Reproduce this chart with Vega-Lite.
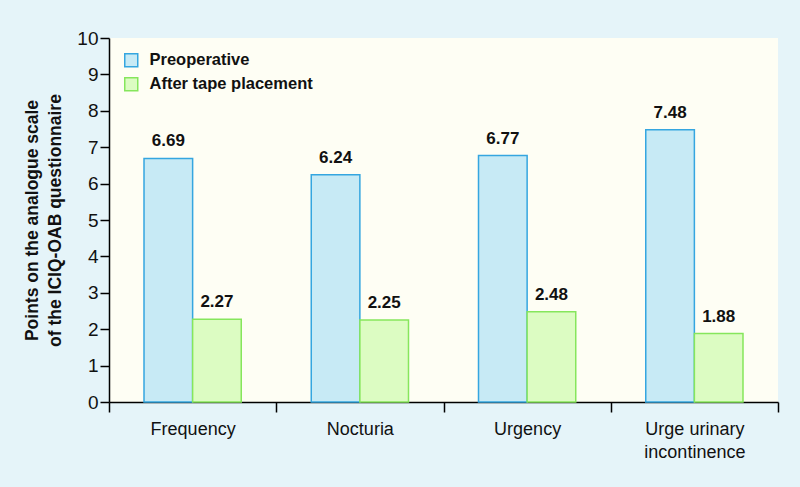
{
  "$schema": "https://vega.github.io/schema/vega-lite/v6.json",
  "width": 669,
  "height": 364,
  "autosize": {"type": "none"},
  "padding": {"left": 109, "top": 38, "right": 22, "bottom": 85},
  "background": "#e5f4f9",
  "config": {
    "font": "Liberation Sans",
    "view": {"fill": "#fefef4", "stroke": null}
  },
  "data": {
    "values": [
      {"symptom": "Frequency", "group": "Preoperative", "value": 6.69},
      {"symptom": "Frequency", "group": "After tape placement", "value": 2.27},
      {"symptom": "Nocturia", "group": "Preoperative", "value": 6.24},
      {"symptom": "Nocturia", "group": "After tape placement", "value": 2.25},
      {"symptom": "Urgency", "group": "Preoperative", "value": 6.77},
      {"symptom": "Urgency", "group": "After tape placement", "value": 2.48},
      {"symptom": "Urge urinary incontinence", "group": "Preoperative", "value": 7.48},
      {"symptom": "Urge urinary incontinence", "group": "After tape placement", "value": 1.88}
    ]
  },
  "encoding": {
    "x": {
      "field": "symptom",
      "type": "nominal",
      "sort": null,
      "scale": {"paddingInner": 0, "paddingOuter": 0},
      "axis": {
        "title": null,
        "labelAngle": 0,
        "labelFontSize": 18,
        "labelColor": "#111",
        "labelPadding": 8,
        "labelLineHeight": 23,
        "labelExpr": "datum.label == 'Urge urinary incontinence' ? ['Urge urinary', 'incontinence'] : datum.label",
        "domainColor": "#000",
        "domainWidth": 1.5,
        "tickColor": "#000",
        "tickWidth": 1.5,
        "tickSize": 10,
        "tickBand": "extent"
      }
    },
    "xOffset": {
      "field": "group",
      "type": "nominal",
      "sort": ["Preoperative", "After tape placement"],
      "scale": {"paddingInner": 0, "paddingOuter": 0.72}
    },
    "y": {
      "field": "value",
      "type": "quantitative",
      "scale": {"domain": [0, 10], "nice": false},
      "axis": {
        "title": ["Points on the analogue scale", "of the ICIQ-OAB questionnaire"],
        "titleFontSize": 17.5,
        "titleFontWeight": "bold",
        "titleColor": "#111",
        "titleLineHeight": 23,
        "titlePadding": 12,
        "values": [0, 1, 2, 3, 4, 5, 6, 7, 8, 9, 10],
        "grid": false,
        "labelFontSize": 19,
        "labelColor": "#111",
        "labelPadding": 2,
        "domainColor": "#000",
        "domainWidth": 1.5,
        "tickColor": "#000",
        "tickWidth": 1.5,
        "tickSize": 9
      }
    }
  },
  "layer": [
    {
      "mark": {"type": "bar", "strokeWidth": 1.5},
      "encoding": {
        "fill": {
          "field": "group",
          "type": "nominal",
          "scale": {"domain": ["Preoperative", "After tape placement"], "range": ["#c7eaf5", "#dcfcc2"]},
          "legend": {
            "title": null,
            "orient": "none",
            "legendX": 14,
            "legendY": 14,
            "symbolType": "square",
            "symbolSize": 169,
            "symbolStrokeWidth": 1.5,
            "labelFontSize": 16.5,
            "labelFontWeight": "bold",
            "labelColor": "#111",
            "labelOffset": 10,
            "labelLimit": 400,
            "rowPadding": 4
          }
        },
        "stroke": {
          "field": "group",
          "type": "nominal",
          "scale": {"domain": ["Preoperative", "After tape placement"], "range": ["#35a6e0", "#86e65c"]}
        }
      }
    },
    {
      "mark": {"type": "text", "baseline": "bottom", "dy": -8, "fontSize": 17, "fontWeight": "bold", "color": "#111"},
      "encoding": {
        "text": {"field": "value", "type": "quantitative", "format": ".2f"}
      }
    }
  ]
}
